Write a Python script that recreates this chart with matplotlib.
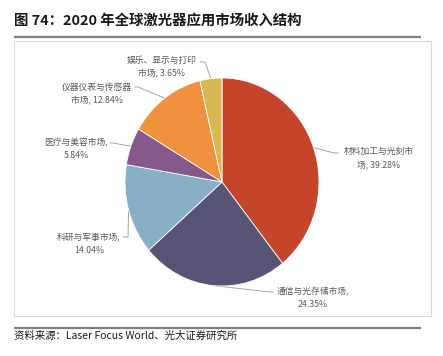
import matplotlib
matplotlib.use("Agg")
import matplotlib.pyplot as plt
import numpy as np

plt.rcParams["font.family"] = ["Noto Sans CJK SC", "DejaVu Sans"]

# data
categories = ["材料加工与光刻市场", "通信与光存储市场", "科研与军事市场",
              "医疗与美容市场", "仪器仪表与传感器市场", "娱乐、显示与打印市场"]
shares = [39.28, 24.35, 14.04, 5.84, 12.84, 3.65]
label_lines = [
    ("材料加工与光刻市", "场, {:.2f}%"),
    ("通信与光存储市场,", "{:.2f}%"),
    ("科研与军事市场,", "{:.2f}%"),
    ("医疗与美容市场,", "{:.2f}%"),
    ("仪器仪表与传感器", "市场, {:.2f}%"),
    ("娱乐、显示与打印", "市场, {:.2f}%"),
]
colors = ["#C5452A", "#575476", "#87AFC5", "#86598A", "#F0913E", "#D9B853"]

title = "图 74：2020 年全球激光器应用市场收入结构"
source = "资料来源：Laser Focus World、光大证券研究所"

# layout (pixel coords, origin top-left)
W, H = 443, 356
PIE_CX, PIE_CY, PIE_RX, PIE_RY = 222, 182, 97, 104
label_centers = [(379, 158), (313, 298), (89, 244), (76, 149), (97, 94), (162, 67)]
leader_bends = [[(334, 153), (338, 153)],
                [(270, 292), (273, 292)],
                [(128, 237), (123, 237)],
                [(113, 143), (110, 143)],
                [(138, 87), (135, 87)],
                [(205, 62), (200, 62)]]

fig = plt.figure(figsize=(W / 100, H / 100), dpi=100)
bg = fig.add_axes([0, 0, 1, 1])
bg.set_xlim(0, W)
bg.set_ylim(H, 0)
bg.axis("off")

pie_ax = fig.add_axes([(PIE_CX - PIE_RX) / W, (H - PIE_CY - PIE_RY) / H,
                       2 * PIE_RX / W, 2 * PIE_RY / H])
pie_ax.pie(shares, colors=colors, startangle=90, counterclock=False,
           wedgeprops=dict(edgecolor="white", linewidth=0.6))
pie_ax.set_aspect("auto")
pie_ax.set_xlim(-1, 1)
pie_ax.set_ylim(-1, 1)
pie_ax.axis("off")

# title, rules and frame
bg.text(14, 21, title, fontsize=10.4, fontweight="bold", color="#1a1a1a",
        ha="left", va="center")
bg.plot([14, 421], [36.5, 36.5], color="#7f7f7f", lw=1.6, solid_capstyle="butt")
bg.add_patch(plt.Rectangle((14, 41), 417, 275, fill=False, ec="#d9d9d9", lw=0.8))
bg.plot([14, 421], [328, 328], color="#7f7f7f", lw=1.6, solid_capstyle="butt")
bg.text(14, 336, source, fontsize=7.5, color="#1a1a1a", ha="left", va="center")

# leader lines and labels
cum = np.cumsum([0] + shares)
to_bg = bg.transData.inverted()
for i, val in enumerate(shares):
    mid = np.deg2rad(90 - 3.6 * (cum[i] + val / 2))
    disp = pie_ax.transData.transform((np.cos(mid), np.sin(mid)))
    ex, ey = to_bg.transform(disp)
    pts = [(ex, ey)] + leader_bends[i]
    bg.plot([p[0] for p in pts], [p[1] for p in pts], color="#a6a6a6", lw=0.7)
    l1, l2 = label_lines[i]
    cx, cy = label_centers[i]
    bg.text(cx, cy, l1 + "\n" + l2.format(val), fontsize=6.3, color="#595959",
            ha="center", va="center", multialignment="center", linespacing=1.55)

fig.savefig("out.png", dpi=100)
